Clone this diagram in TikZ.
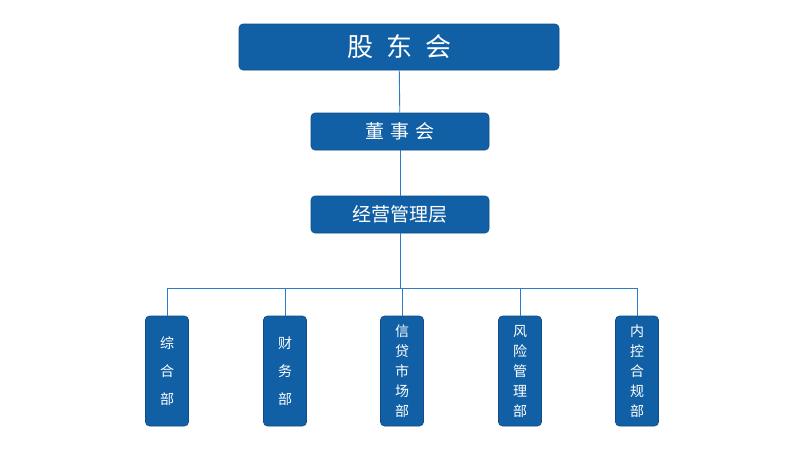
\documentclass[tikz,border=0pt]{standalone}
\usepackage{fontspec}
\newfontfamily\cjk{Noto Sans CJK SC}
\definecolor{boxc}{HTML}{1160A6}
\definecolor{linec}{HTML}{2B7CC8}
\begin{document}
\begin{tikzpicture}[x=1pt,y=-1pt,
  box/.style={draw=boxc!80!black,line width=0.6pt,fill=boxc,rounded corners=4pt,text=white,font=\cjk,inner sep=0pt},
  ln/.style={draw=linec,line width=0.9pt}]
\useasboundingbox (0,0) rectangle (802,448);
\node[box,minimum width=320,minimum height=46,font=\cjk\fontsize{26}{30}\selectfont] (a) at (399,47) {股\hspace{0.5em}东\hspace{0.5em}会};
\node[box,minimum width=178,minimum height=37,font=\cjk\fontsize{19}{22}\selectfont] (b) at (400,131.5) {董\hspace{0.3em}事\hspace{0.3em}会};
\node[box,minimum width=178,minimum height=37,font=\cjk\fontsize{19}{22}\selectfont] (c) at (400,214.5) {经营管理层};
\coordinate (h) at (400,288);
\foreach \n/\x/\t in {d1/167/{综\\[8pt]合\\[8pt]部},d2/285/{财\\[8pt]务\\[8pt]部},d3/402/{信\\贷\\市\\场\\部},d4/520/{风\\险\\管\\理\\部},d5/637/{内\\控\\合\\规\\部}}{
  \node[box,minimum width=43,minimum height=110,align=center,font=\cjk\fontsize{14}{20}\selectfont] (\n) at (\x,371) {\t};
}
\draw[ln] (a) -- (b);
\draw[ln] (b) -- (c);
\draw[ln] (c) -- (h);
\draw[ln] (d1.north) -- (d1.north|-h) -- (d5.north|-h) -- (d5.north);
\foreach \n in {d2,d3,d4}{\draw[ln] (\n.north) -- (\n.north|-h);}
\end{tikzpicture}
\end{document}
